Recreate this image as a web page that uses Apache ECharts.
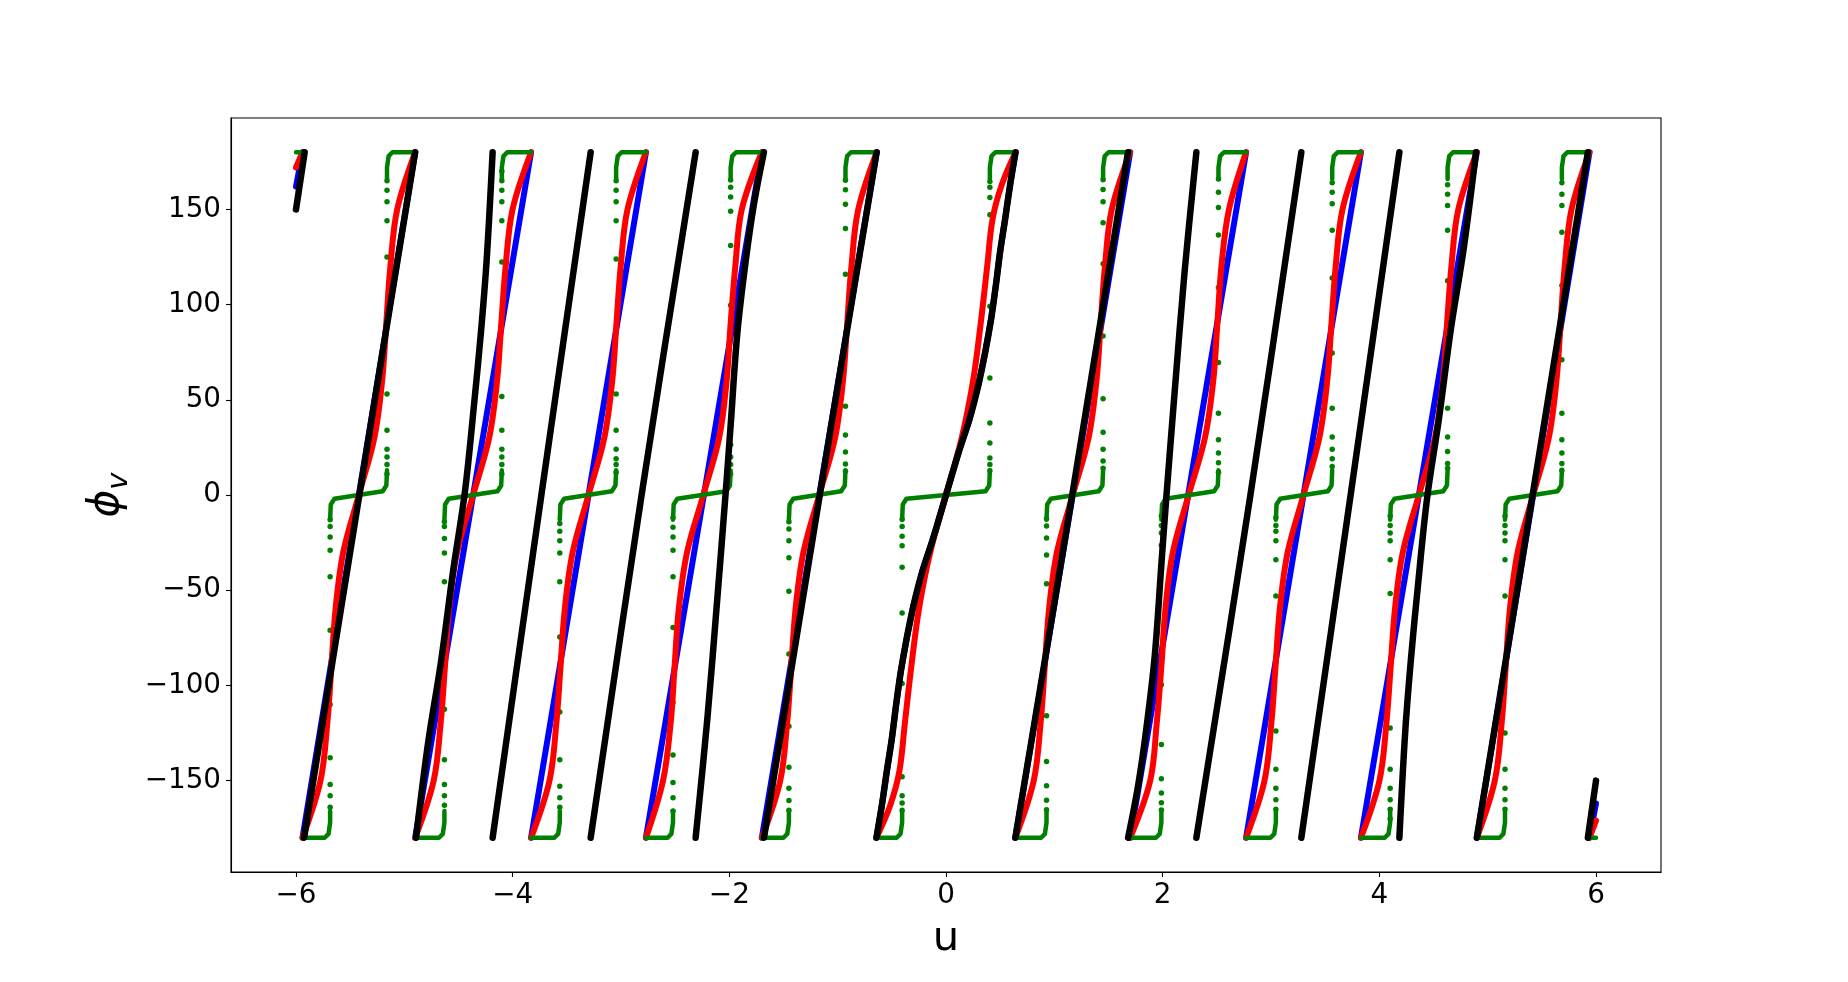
<!DOCTYPE html>
<html>
<head>
<meta charset="utf-8">
<script src="https://cdn.jsdelivr.net/npm/echarts@6/dist/echarts.min.js"></script>
<style>
  html, body { margin: 0; padding: 0; background: #fff; }
  #chart { width: 1848px; height: 982px; }
</style>
</head>
<body>
<div id="chart"></div>
<script>
// tick positions
const xTicks = [-6, -4, -2, 0, 2, 4, 6];
const yTicks = [-150, -100, -50, 0, 50, 100, 150];

// [u, phi] points, one list per wrapped branch
const blueSegments = [
  [[-6.0, 162], [-5.94, 180]],
  [[-5.94, -180], [-5.42, 0], [-4.90, 180]],
  [[-4.90, -180], [-4.365, 0], [-3.83, 180]],
  [[-3.83, -180], [-3.30, 0], [-2.77, 180]],
  [[-2.77, -180], [-2.235, 0], [-1.70, 180]],
  [[-1.70, -180], [-1.17, 0], [-0.64, 180]],
  [[-0.642, -180], [-0.592, -163], [-0.546, -145], [-0.500, -128], [-0.460, -110], [-0.418, -93], [-0.362, -75], [-0.300, -58], [-0.218, -40], [-0.120, -23], [0, 0],
   [0.120, 23], [0.218, 40], [0.300, 58], [0.362, 75], [0.418, 93], [0.460, 110], [0.500, 128], [0.546, 145], [0.592, 163], [0.642, 180]],
  [[0.64, -180], [1.17, 0], [1.70, 180]],
  [[1.70, -180], [2.235, 0], [2.77, 180]],
  [[2.77, -180], [3.30, 0], [3.83, 180]],
  [[3.83, -180], [4.365, 0], [4.90, 180]],
  [[4.90, -180], [5.42, 0], [5.94, 180]],
  [[5.94, -180], [6.0, -162]]
];

const redSegments = [
  [[-6.0, 172], [-5.94, 180]],
  [[-5.94, -180], [-5.774, -150], [-5.711, -120], [-5.673, -90], [-5.635, -60], [-5.564, -30], [-5.42, 0], [-5.277, 30], [-5.205, 60], [-5.167, 90], [-5.129, 120], [-5.066, 150], [-4.90, 180]],
  [[-4.90, -180], [-4.729, -150], [-4.665, -120], [-4.625, -90], [-4.587, -60], [-4.513, -30], [-4.365, 0], [-4.217, 30], [-4.144, 60], [-4.105, 90], [-4.065, 120], [-4.001, 150], [-3.83, 180]],
  [[-3.83, -180], [-3.660, -150], [-3.597, -120], [-3.558, -90], [-3.519, -60], [-3.446, -30], [-3.30, 0], [-3.154, 30], [-3.081, 60], [-3.042, 90], [-3.003, 120], [-2.940, 150], [-2.77, 180]],
  [[-2.77, -180], [-2.612, -150], [-2.542, -120], [-2.505, -90], [-2.467, -60], [-2.390, -30], [-2.240, 0], [-2.094, 30], [-2.025, 60], [-1.988, 90], [-1.945, 120], [-1.885, 150], [-1.70, 180]],
  [[-1.70, -180], [-1.530, -150], [-1.467, -120], [-1.428, -90], [-1.389, -60], [-1.316, -30], [-1.17, 0], [-1.024, 30], [-0.951, 60], [-0.912, 90], [-0.873, 120], [-0.810, 150], [-0.64, 180]],
  [[-0.642, -180], [-0.515, -163], [-0.43, -145], [-0.38, -120], [-0.32, -90], [-0.25, -60], [-0.145, -30], [0, 0], [0.145, 30], [0.25, 60], [0.32, 90], [0.38, 120], [0.43, 145], [0.515, 163], [0.642, 180]],
  [[0.64, -180], [0.810, -150], [0.873, -120], [0.912, -90], [0.951, -60], [1.024, -30], [1.17, 0], [1.316, 30], [1.389, 60], [1.428, 90], [1.467, 120], [1.530, 150], [1.70, 180]],
  [[1.70, -180], [1.885, -150], [1.945, -120], [1.988, -90], [2.025, -60], [2.094, -30], [2.240, 0], [2.390, 30], [2.467, 60], [2.505, 90], [2.542, 120], [2.612, 150], [2.77, 180]],
  [[2.77, -180], [2.940, -150], [3.003, -120], [3.042, -90], [3.081, -60], [3.154, -30], [3.30, 0], [3.446, 30], [3.519, 60], [3.558, 90], [3.597, 120], [3.660, 150], [3.83, 180]],
  [[3.83, -180], [4.001, -150], [4.065, -120], [4.105, -90], [4.144, -60], [4.217, -30], [4.365, 0], [4.513, 30], [4.587, 60], [4.625, 90], [4.665, 120], [4.729, 150], [4.90, 180]],
  [[4.90, -180], [5.066, -150], [5.129, -120], [5.167, -90], [5.205, -60], [5.277, -30], [5.42, 0], [5.564, 30], [5.635, 60], [5.673, 90], [5.711, 120], [5.774, 150], [5.94, 180]],
  [[5.94, -180], [6.0, -171]]
];

const blackSegments = [
  [[-6.0, 150], [-5.92, 180]],
  [[-5.925, -180], [-5.415, 0], [-4.90, 180]],
  [[-4.892, -180], [-4.78, -130], [-4.66, -87], [-4.55, -40], [-4.44, 2], [-4.354, 49], [-4.292, 86], [-4.240, 123.5], [-4.185, 180]],
  [[-4.185, -180], [-3.735, 0], [-3.28, 180]],
  [[-3.28, -180], [-2.81, 0], [-2.311, 180]],
  [[-2.311, -180], [-2.203, -117.6], [-2.111, -54.4], [-2.034, 1.1], [-1.988, 36.5], [-1.927, 84.5], [-1.850, 122.4], [-1.773, 152.7], [-1.681, 180]],
  [[-1.68, -180], [-1.165, 0], [-0.64, 180]],
  [[-0.642, -180], [-0.592, -163], [-0.546, -145], [-0.500, -128], [-0.460, -110], [-0.418, -93], [-0.362, -75], [-0.300, -58], [-0.218, -40], [-0.120, -23], [0, 0],
   [0.120, 23], [0.218, 40], [0.300, 58], [0.362, 75], [0.418, 93], [0.460, 110], [0.500, 128], [0.546, 145], [0.592, 163], [0.642, 180]],
  [[0.64, -180], [1.165, 0], [1.68, 180]],
  [[1.681, -180], [1.773, -152.7], [1.850, -122.4], [1.927, -84.5], [1.988, -36.5], [2.034, -1.1], [2.111, 54.4], [2.203, 117.6], [2.311, 180]],
  [[2.311, -180], [2.81, 0], [3.28, 180]],
  [[3.28, -180], [3.735, 0], [4.185, 180]],
  [[4.185, -180], [4.240, -123.5], [4.292, -86], [4.354, -49], [4.44, -2], [4.55, 40], [4.66, 87], [4.78, 130], [4.892, 180]],
  [[4.90, -180], [5.415, 0], [5.925, 180]],
  [[5.925, -180], [6.0, -150]]
];

// green: three plateaus (-180, 0, 180) per branch, with sparse dots at the two jumps
const greenStart    = [-5.94, -4.90, -3.83, -2.77, -1.70, -0.642, 0.64, 1.70, 2.77, 3.83, 4.90];
const greenJumpLow  = [-5.685, -4.63, -3.565, -2.52, -1.45, -0.405, 0.928, 1.988, 3.045, 4.10, 5.16];
const greenJumpHigh = [-5.16, -4.10, -3.045, -1.988, -0.928, 0.405, 1.45, 2.515, 3.565, 4.63, 5.685];
const greenEnd      = [-4.90, -3.83, -2.77, -1.70, -0.642, 0.64, 1.70, 2.77, 3.83, 4.90, 5.94];
const greenEdges = [
  [[-6.0, 180], [-5.94, 180]],
  [[5.94, -180], [6.0, -180]]
];
const greenLowDots = [
  [-164, -158, -152, -138, -110, -71, -43, -29, -22, -16.5, -13],
  [-163, -158, -152, -139, -112.5, -74.6, -45.6, -30.4, -22.9, -16.5, -14],
  [-164, -159, -153, -139, -114, -74.6, -45.6, -30.4, -24, -19, -15],
  [-166, -159, -151, -136.5, -109, -69.6, -43, -29, -22, -17, -12],
  [-165.6, -160.5, -154, -143, -121.4, -83.5, -50.6, -33, -24, -17.8, -14],
  [-165.6, -161.8, -158, -148, -99, -62, -38, -26.6, -21.6, -16.5, -12.8],
  [-12.5, -16.3, -22.6, -31.5, -46.6, -116, -140, -152.7, -160.3, -165.3],
  [-11, -16, -20, -26.4, -39, -99.7, -131, -149, -156.5, -161.6, -165.4],
  [-12, -16, -19, -24, -34, -53, -124, -144, -154, -160, -165],
  [-11, -16, -20, -24, -34, -51.7, -122.4, -144, -154, -160, -165, -170],
  [-11, -16, -20, -24, -34, -53, -125, -144, -154, -160, -165]
];
const greenHighDots = [
  [11, 16, 20, 24, 34, 53, 125, 144, 154, 160, 165],
  [11, 16, 20, 24, 34, 51.7, 122.4, 144, 154, 160, 165, 170],
  [12, 16, 19, 24, 34, 53, 124, 144, 154, 160, 165],
  [11, 16, 20, 26.4, 39, 99.7, 131, 149, 156.5, 161.6, 165.4],
  [12.5, 16.3, 22.6, 31.5, 46.6, 116, 140, 152.7, 160.3, 165.3],
  [12.8, 16, 19.4, 27.3, 37.8, 61.4, 99.1, 147.2, 156.3, 161.6, 164.7],
  [165.6, 160.5, 154, 143, 121.4, 83.5, 50.6, 33, 24, 17.8, 14],
  [166, 159, 151, 136.5, 109, 69.6, 43, 29, 22, 17, 12],
  [164, 159, 153, 139, 114, 74.6, 45.6, 30.4, 24, 19, 15],
  [163, 158, 152, 139, 112.5, 74.6, 45.6, 30.4, 22.9, 16.5, 14],
  [164, 158, 152, 138, 110, 71, 43, 29, 22, 16.5, 13]
];

const GAP = ['-', '-'];

function joinSegments(segs) {
  const out = [];
  segs.forEach((seg, i) => {
    if (i > 0) out.push(GAP);
    seg.forEach(p => out.push(p));
  });
  return out;
}

// plateaus with the small rounded corners seen where they meet the jumps
function greenPlateaus() {
  const segs = greenEdges.slice();
  for (let i = 0; i < greenStart.length; i++) {
    const s = greenStart[i], a = greenJumpLow[i], b = greenJumpHigh[i], e = greenEnd[i];
    segs.push([[s, -180], [a - 0.05, -180], [a - 0.015, -178], [a, -172], [a, -166]]);
    segs.push([[a, -13], [a + 0.006, -5], [a + 0.04, -2], [b - 0.04, 2], [b - 0.006, 5], [b, 13]]);
    segs.push([[b, 166], [b, 172], [b + 0.015, 178], [b + 0.05, 180], [e, 180]]);
  }
  return joinSegments(segs);
}

function greenDots() {
  const pts = [];
  greenJumpLow.forEach((u, i) => greenLowDots[i].forEach(v => pts.push([u, v])));
  greenJumpHigh.forEach((u, i) => greenHighDots[i].forEach(v => pts.push([u, v])));
  return pts;
}

const FONT = 'DejaVu Sans';
const minus = v => String(v).replace('-', '\u2212');

function lineSeries(data, color, width, smooth) {
  return {
    type: 'line',
    data: data,
    showSymbol: false,
    symbol: 'none',
    connectNulls: false,
    smooth: smooth,
    silent: true,
    animation: false,
    lineStyle: { color: color, width: width, cap: 'round', join: 'round' }
  };
}

const chart = echarts.init(document.getElementById('chart'), null, { renderer: 'canvas' });

const option = {
  backgroundColor: '#ffffff',
  animation: false,
  grid: {
    left: 231, right: 187, top: 118, bottom: 110,
    show: true, borderColor: '#000', borderWidth: 1.1,
    outerBoundsMode: 'none'
  },
  xAxis: {
    type: 'value',
    min: -6.6,
    max: 6.6,
    splitLine: { show: false },
    axisLine: { show: true, onZero: false, lineStyle: { color: '#000', width: 1.1 } },
    axisTick: { show: true, length: 5, customValues: xTicks, lineStyle: { color: '#000', width: 1.1 } },
    axisLabel: { customValues: xTicks, formatter: minus, fontSize: 27.8, fontFamily: FONT, color: '#000', margin: 10 },
    name: 'u',
    nameLocation: 'middle',
    nameGap: 46,
    nameTextStyle: { fontSize: 41.7, fontFamily: FONT, color: '#000' }
  },
  yAxis: {
    type: 'value',
    min: -198,
    max: 198,
    splitLine: { show: false },
    axisLine: { show: true, onZero: false, lineStyle: { color: '#000', width: 1.1 } },
    axisTick: { show: true, length: 5, customValues: yTicks, lineStyle: { color: '#000', width: 1.1 } },
    axisLabel: { customValues: yTicks, formatter: minus, fontSize: 27.8, fontFamily: FONT, color: '#000', margin: 10 },
    name: '{p|\u03d5}{s|v}',
    nameLocation: 'middle',
    nameRotate: 90,
    nameGap: 69,
    nameTextStyle: {
      rich: {
        p: { fontSize: 42, fontStyle: 'italic', fontFamily: FONT, color: '#000' },
        s: { fontSize: 29, fontStyle: 'italic', fontFamily: FONT, color: '#000', padding: [24, 0, 0, 0] }
      }
    }
  },
  series: [
    lineSeries(joinSegments(blueSegments), '#0000ff', 6, false),
    lineSeries(joinSegments(redSegments), '#ff0000', 6, 0.35),
    lineSeries(greenPlateaus(), '#008000', 4.5, false),
    {
      type: 'scatter',
      data: greenDots(),
      symbol: 'circle',
      symbolSize: 5.5,
      silent: true,
      animation: false,
      itemStyle: { color: '#008000', opacity: 1 }
    },
    lineSeries(joinSegments(blackSegments), '#000000', 6.5, 0.35)
  ]
};

chart.setOption(option);
</script>
</body>
</html>
